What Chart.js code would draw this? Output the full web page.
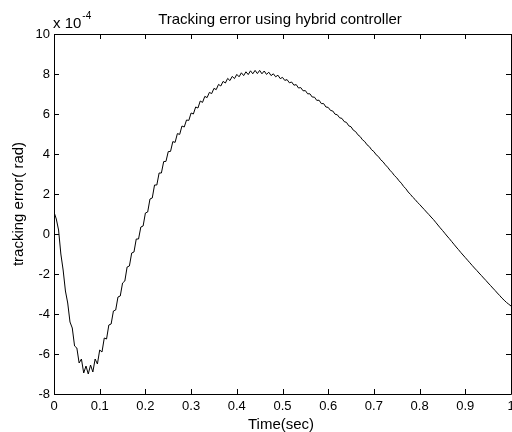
<!DOCTYPE html>
<html>
<head>
<meta charset="utf-8">
<script src="https://cdn.jsdelivr.net/npm/chart.js@4.4.1/dist/chart.umd.min.js"></script>
<style>
html,body{margin:0;padding:0;background:#fff;}
canvas{display:block;}
</style>
</head>
<body>
<canvas id="c" width="512" height="432"></canvas>
<script>
// Data (tracking error in units of 1e-4 rad)
const titleText = "Tracking error using hybrid controller";
const xLabel = "Time(sec)";
const yLabel = "tracking error( rad)";
const yMultiplier = "x 10";
const yExponent = "-4";
const xTicks = [0,0.1,0.2,0.3,0.4,0.5,0.6,0.7,0.8,0.9,1];
const yTicks = [-8,-6,-4,-2,0,2,4,6,8,10];
const timeStep = 0.005;
const errorValues = [
 1.1,0.75,0.2,-1.0,-1.8,-2.85,-3.45,-4.4,-4.7,-5.6,
 -5.7,-6.45,-6.25,-6.95,-6.6,-7.0,-6.55,-6.9,-6.25,-6.5,
 -5.8,-5.9,-5.2,-5.25,-4.55,-4.5,-3.85,-3.8,-3.15,-3.1,
 -2.45,-2.35,-1.65,-1.6,-0.95,-0.9,-0.25,-0.25,0.35,0.4,
 1.05,1.1,1.75,1.8,2.45,2.45,3.05,3.05,3.62,3.63,
 4.12,4.13,4.62,4.58,5.02,4.98,5.4,5.35,5.7,5.68,
 6.05,6.0,6.35,6.3,6.65,6.58,6.88,6.82,7.08,7.02,
 7.28,7.22,7.48,7.4,7.63,7.55,7.78,7.67,7.88,7.77,
 7.98,7.86,8.06,7.92,8.11,7.97,8.16,8.01,8.18,8.02,
 8.18,8.01,8.15,7.98,8.09,7.92,8.01,7.86,7.94,7.77,
 7.83,7.68,7.72,7.56,7.6,7.44,7.47,7.3,7.32,7.16,
 7.17,7.01,7.01,6.85,6.84,6.68,6.69,6.52,6.52,6.35,
 6.33,6.18,6.15,5.99,5.96,5.81,5.78,5.62,5.58,5.41,
 5.36,5.19,5.12,4.96,4.87,4.71,4.62,4.46,4.37,4.21,
 4.12,3.96,3.87,3.71,3.61,3.46,3.34,3.19,3.07,2.92,
 2.81,2.66,2.54,2.38,2.26,2.1,1.98,1.84,1.73,1.59,
 1.48,1.35,1.23,1.1,0.98,0.85,0.73,0.59,0.45,0.31,
 0.18,0.04,-0.1,-0.23,-0.37,-0.51,-0.65,-0.78,-0.92,-1.05,
 -1.18,-1.31,-1.44,-1.57,-1.7,-1.82,-1.95,-2.07,-2.2,-2.32,
 -2.45,-2.57,-2.7,-2.82,-2.95,-3.07,-3.2,-3.31,-3.42,-3.51,
 -3.6
];
const points = errorValues.map((v,i)=>({x: +(i*timeStep).toFixed(3), y: v}));

const FONT = "'Liberation Sans', Arial, Helvetica, sans-serif";

const framePlugin = {
  id: 'frame',
  afterDraw(chart){
    const ctx = chart.ctx, a = chart.chartArea;
    const xs = chart.scales.x, ys = chart.scales.y;
    ctx.save();
    ctx.strokeStyle = '#000';
    ctx.lineWidth = 1;
    ctx.beginPath();
    ctx.rect(Math.round(a.left)+0.5, Math.round(a.top)+0.5, Math.round(a.right-a.left), Math.round(a.bottom-a.top));
    ctx.stroke();
    const tl = 5;
    ctx.beginPath();
    xTicks.forEach(t=>{
      const px = Math.round(xs.getPixelForValue(t))+0.5;
      ctx.moveTo(px, a.bottom); ctx.lineTo(px, a.bottom - tl);
      ctx.moveTo(px, a.top); ctx.lineTo(px, a.top + tl);
    });
    yTicks.forEach(t=>{
      const py = Math.round(ys.getPixelForValue(t))+0.5;
      ctx.moveTo(a.left, py); ctx.lineTo(a.left + tl, py);
      ctx.moveTo(a.right, py); ctx.lineTo(a.right - tl, py);
    });
    ctx.stroke();
    // texts
    ctx.fillStyle = '#000';
    ctx.font = '15px ' + FONT;
    ctx.textAlign = 'center';
    ctx.textBaseline = 'alphabetic';
    ctx.fillText(titleText, 280, 24);
    ctx.fillText(xLabel, 281, 429);
    ctx.save();
    ctx.translate(23, 204);
    ctx.rotate(-Math.PI/2);
    ctx.fillText(yLabel, 0, 0);
    ctx.restore();
    ctx.textAlign = 'left';
    ctx.font = '15px ' + FONT;
    ctx.fillText(yMultiplier, a.left - 1, 28);
    const w = ctx.measureText(yMultiplier).width;
    ctx.font = '10px ' + FONT;
    ctx.fillText(yExponent, a.left - 1 + w + 1, 19);
    ctx.restore();
  }
};

new Chart(document.getElementById('c'), {
  type: 'line',
  data: {
    datasets: [{
      data: points,
      borderColor: '#000',
      borderWidth: 1,
      pointRadius: 0,
      tension: 0,
      fill: false
    }]
  },
  options: {
    responsive: false,
    animation: false,
    devicePixelRatio: 1,
    layout: { padding: { top: 34, right: 1, left: 0, bottom: 0 } },
    plugins: { legend: { display: false }, tooltip: { enabled: false }, title: { display: false } },
    scales: {
      x: {
        type: 'linear', min: 0, max: 1,
        grid: { display: false, drawTicks: false },
        border: { display: false },
        afterBuildTicks(s){ s.ticks = xTicks.map(v=>({value:v})); },
        afterFit(s){ s.height = 38; s.paddingLeft = 0; s.paddingRight = 0; },
        ticks: { color: '#000', font: { family: FONT, size: 13 }, padding: 5, maxRotation: 0, autoSkip: false,
          callback: v => String(v) }
      },
      y: {
        type: 'linear', min: -8, max: 10,
        grid: { display: false, drawTicks: false },
        border: { display: false },
        afterBuildTicks(s){ s.ticks = yTicks.map(v=>({value:v})); },
        afterFit(s){ s.width = 54; s.paddingTop = 0; s.paddingBottom = 0; },
        ticks: { color: '#000', font: { family: FONT, size: 13 }, padding: 4, autoSkip: false,
          callback: v => String(v) }
      }
    }
  },
  plugins: [framePlugin]
});
</script>
</body>
</html>
